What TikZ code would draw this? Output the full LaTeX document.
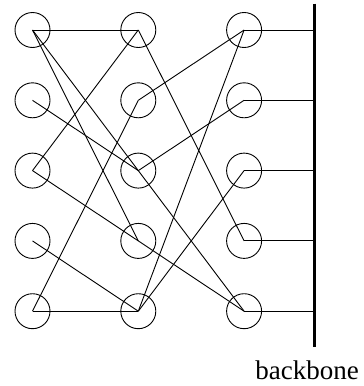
\documentclass[tikz,border=0pt]{standalone}
\usepackage{fontspec}
\setmainfont{Liberation Serif}
\begin{document}
\begin{tikzpicture}[x=1pt,y=-1pt,
  sw/.style={circle,draw,line width=0.9pt,minimum size=35pt,inner sep=0pt},
  link/.style={line width=0.9pt},
  bus/.style={line width=3.3pt}]
\useasboundingbox (0,0) rectangle (364,386);
% columns and rows
\foreach \c/\x in {a/32.5,b/138.3,c/244.1}{
  \foreach \r/\y in {1/30,2/100.3,3/170.6,4/240.9,5/311.2}{
    \node[sw] (\c\r) at (\x,\y) {};
  }
}
\coordinate (bbtop) at (314.7,3.5);
\coordinate (bbbot) at (314.7,346.5);
\draw[bus] (bbtop) -- (bbbot);
\node[anchor=base,font=\fontsize{27}{31}\selectfont] (lbl) at (307,379) {backbone};
% links
\draw[link] (a1.center) -- (b1.center);
\draw[link] (a1.center) -- (b4.center);
\draw[link] (a1.center) -- (c5.center);
\draw[link] (a2.center) -- (b3.center);
\draw[link] (a3.center) -- (b1.center);
\draw[link] (a3.center) -- (c5.center);
\draw[link] (a4.center) -- (b5.center);
\draw[link] (a5.center) -- (b5.center);
\draw[link] (a5.center) -- (b2.center);
\draw[link] (b1.center) -- (c4.center);
\draw[link] (c1.center) -- (b2.center);
\draw[link] (c1.center) -- (b5.center);
\draw[link] (c2.center) -- (b3.center);
\draw[link] (c3.center) -- (b5.center);
% to backbone
\foreach \r in {1,...,5}{
  \draw[link] (c\r.center) -- (c\r.center -| bbtop);
}
\end{tikzpicture}
\end{document}
